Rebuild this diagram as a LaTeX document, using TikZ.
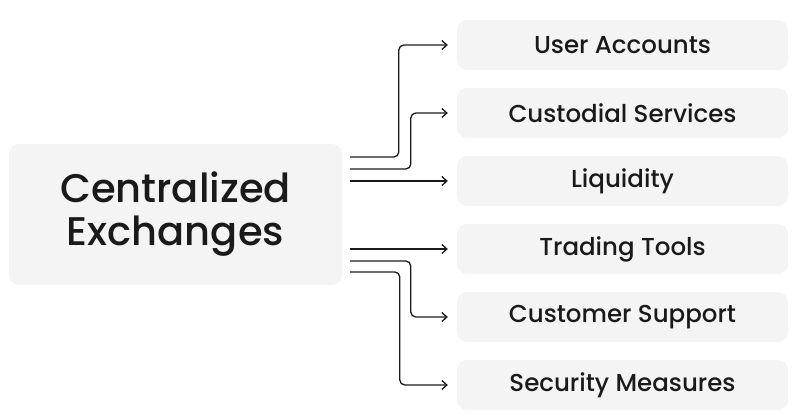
\documentclass[tikz,border=0pt]{standalone}
\usepackage{fontspec}
\setmainfont{Poppins}[UprightFont={* Medium}]
\usetikzlibrary{arrows.meta}

\definecolor{boxgray}{HTML}{F4F4F4}
\definecolor{ink}{HTML}{1A1A1A}

\begin{document}
\begin{tikzpicture}[x=1pt,y=-1pt,
    box/.style={fill=boxgray, rounded corners=10pt, inner sep=0pt, text=ink},
    item/.style={box, minimum width=331pt, minimum height=50pt, font=\fontsize{24.5}{28}\selectfont},
    conn/.style={draw=ink, line width=1.3pt, rounded corners=5pt, -{Straight Barb[length=5pt,width=9pt]}}]
          \useasboundingbox (0,0) rectangle (800,418);

          \node[box, minimum width=333pt, minimum height=141pt, align=center,
                font=\fontsize{40}{43}\selectfont] (ce) at (175.5,214.5) {Centralized\\Exchanges};

          \node[item] (ua) at (622.5,45) {User Accounts};
          \node[item] (cs) at (622.5,113) {Custodial Services};
          \node[item] (lq) at (622.5,181) {Liquidity};
          \node[item] (tt) at (622.5,249) {Trading Tools};
          \node[item] (su) at (622.5,317) {Customer Support};
          \node[item] (sm) at (622.5,385) {Security Measures};

          \draw[conn] ([xshift=8pt,yshift=57.5pt]ce.east) -| ([xshift=-58pt]ua.west) -- ([xshift=-9pt]ua.west);
          \draw[conn] ([xshift=8pt,yshift=45.5pt]ce.east) -| ([xshift=-46pt]cs.west) -- ([xshift=-9pt]cs.west);
          \draw[conn] ([xshift=8pt]ce.east |- lq.west) -- ([xshift=-9pt]lq.west);
          \draw[conn] ([xshift=8pt]ce.east |- tt.west) -- ([xshift=-9pt]tt.west);
          \draw[conn] ([xshift=8pt,yshift=-46.5pt]ce.east) -| ([xshift=-46pt]su.west) -- ([xshift=-9pt]su.west);
          \draw[conn] ([xshift=8pt,yshift=-57.5pt]ce.east) -| ([xshift=-57pt]sm.west) -- ([xshift=-9pt]sm.west);
\end{tikzpicture}
\end{document}
